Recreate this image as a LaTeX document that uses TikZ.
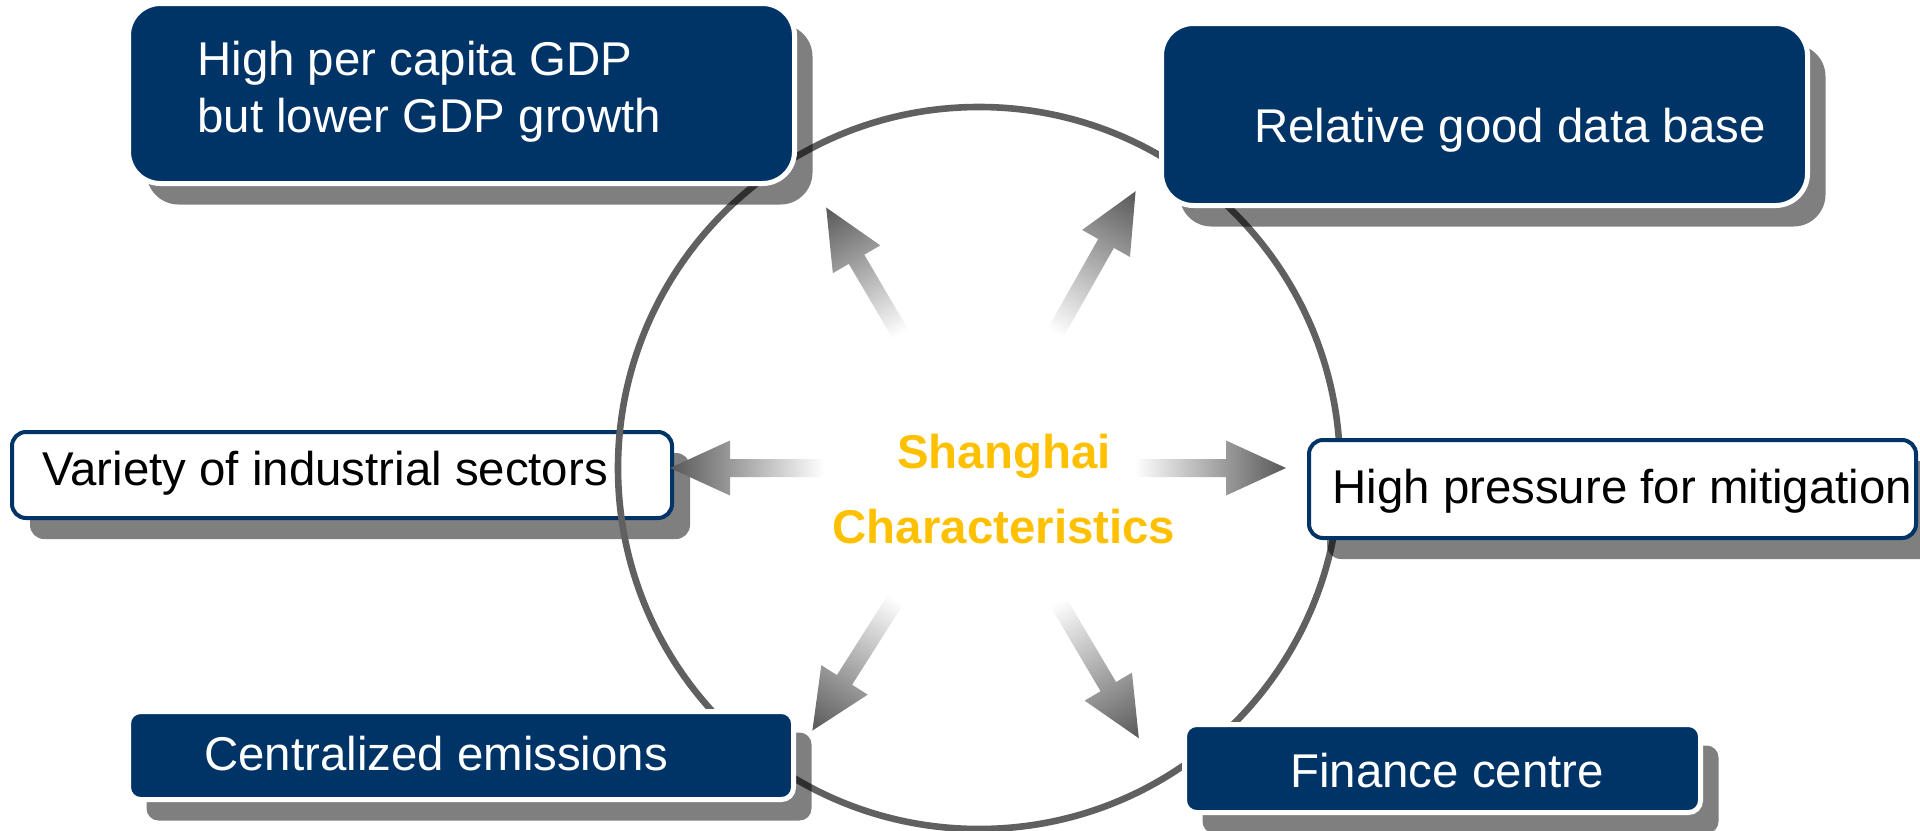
\documentclass[tikz,border=0pt]{standalone}
\usepackage{fontspec}
\setmainfont{Liberation Sans}
\usetikzlibrary{shadows,calc}
\definecolor{navy}{RGB}{0,51,102}
\definecolor{ringgray}{RGB}{96,96,96}
\definecolor{gold}{RGB}{255,192,0}
\definecolor{arrowmid}{RGB}{160,160,160}
\definecolor{arrowtip}{RGB}{88,88,88}
\newcommand\fadearrow[2]{%
  \begin{scope}[transform canvas={shift={(C)},rotate=#1}]
    \shade[fadefill] (155,9) -- (#2-60,9) -- (#2-60,27.5) -- (#2,0) -- (#2-60,-27.5) -- (#2-60,-9) -- (155,-9) -- cycle;
  \end{scope}}
\begin{document}
\begin{tikzpicture}[x=0.5pt,y=0.5pt,
  boxshadow/.style={drop shadow={shadow xshift=9pt,shadow yshift=-10.5pt,fill=black,opacity=0.5}},
  darkbox/.style={boxshadow,rectangle,fill=navy,draw=white,line width=2.5pt,inner sep=0pt},
  lightbox/.style={boxshadow,rectangle,fill=white,draw=navy,line width=2pt,inner sep=0pt},
  boxtext/.style={font=\fontsize{23.7}{28.5}\selectfont,inner sep=0pt,anchor=base west},
  darktext/.style={boxtext,text=white},
  lighttext/.style={boxtext,text=black},
  ring/.style={draw=ringgray,line width=3.3pt},
  fadefill/.style={left color=white,middle color=arrowmid,right color=arrowtip}
]
\useasboundingbox (0,0) rectangle (1920,-830);
\coordinate (C) at (979,-468);

% box drawn under the ring
\node[lightbox,rounded corners=7pt,minimum width=330pt,minimum height=43pt] (varbox) at (342,-475) {};
\node[lighttext] (vartext) at (42,-485) {Variety of industrial sectors};

% ring
\draw[ring] (C) circle[radius=180.5pt];

% boxes over the ring
\node[darkbox,rounded corners=16pt,minimum width=333pt,minimum height=90pt] (gdpbox) at (461.5,-93.5) {};
\node[darktext,align=left] (gdptext) at (197,-132) {High per capita GDP\\but lower GDP growth};

\node[darkbox,rounded corners=16pt,minimum width=323pt,minimum height=91pt] (databox) at (1484.5,-114.5) {};
\node[darktext] (datatext) at (1254,-142) {Relative good data base};

\node[lightbox,rounded corners=7pt,minimum width=303.5pt,minimum height=49pt] (mitbox) at (1612.5,-489) {};
\node[lighttext] (mittext) at (1332,-503) {High pressure for mitigation};

\node[darkbox,rounded corners=6pt,minimum width=332.5pt,minimum height=44pt] (embox) at (461,-755.5) {};
\node[darktext] (emtext) at (204,-770) {Centralized emissions};

\node[darkbox,rounded corners=6pt,minimum width=258pt,minimum height=44pt] (finbox) at (1442.5,-768.5) {};
\node[darktext] (fintext) at (1290,-787) {Finance centre};

% centre title
\node[font=\bfseries\fontsize{23.7}{37.5}\selectfont,text=gold,align=center,inner sep=0pt,anchor=base] (title) at (1004,-543) {Shanghai\\Characteristics};

% fading arrows
\fadearrow{120.4}{302}
\fadearrow{60.5}{318}
\fadearrow{180}{309}
\fadearrow{0}{307}
\fadearrow{237.6}{311}
\fadearrow{300.6}{314}
\end{tikzpicture}
\end{document}
